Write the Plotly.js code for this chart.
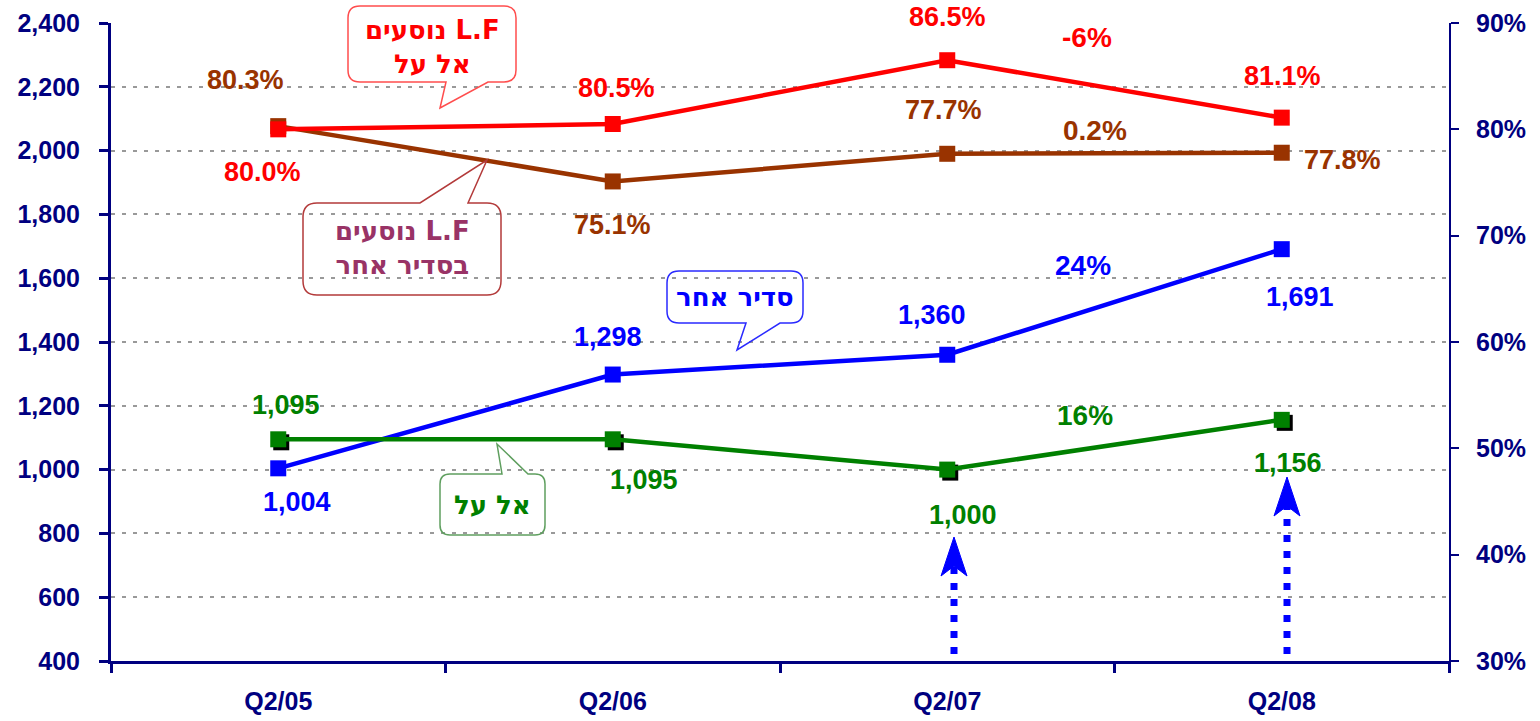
<!DOCTYPE html>
<html><head><meta charset="utf-8">
<script src="https://cdn.plot.ly/plotly-3.0.1.min.js"></script>
<style>html,body{margin:0;padding:0;background:#fff}#chart{width:1540px;height:721px}</style>
</head><body><div id="chart"></div>
<script>
// ---- data ----
const quarters = ['Q2/05', 'Q2/06', 'Q2/07', 'Q2/08'];
const elalLF = [80.0, 80.5, 86.5, 81.1];      // L.F נוסעים אל על (%)
const otherLF = [80.3, 75.1, 77.7, 77.8];     // L.F נוסעים בסדיר אחר (%)
const otherPax = [1004, 1298, 1360, 1691];    // סדיר אחר
const elalPax = [1095, 1095, 1000, 1156];     // אל על
const changeLabels = ['-6%', '0.2%', '24%', '16%']; // red, brown, blue, green
const leftTicks = [400, 600, 800, 1000, 1200, 1400, 1600, 1800, 2000, 2200, 2400];
const rightTicks = [30, 40, 50, 60, 70, 80, 90];

// ---- layout constants ----
const W = 1540, H = 721, ML = 111, MR = 91, MT = 23, MB = 60;
const PW = W - ML - MR, PH = H - MT - MB;
const Y1 = [400, 2400], Y2 = [30, 90];
const X = x => (x - ML) / PW;
const Yp = y => 1 - (y - MT) / PH;
const idx = quarters.map((_, i) => i);
const fmt = v => v.toLocaleString('en-US');
const pct = v => v.toFixed(1) + '%';

const RED = '#ff0000', BROWN = '#993300', BLUE = '#0000ff', GREEN = '#008000', NAVY = '#000080';
const FONT = 'Arial, "Liberation Sans", sans-serif';
const HEB = '"DejaVu Sans", Arial, sans-serif';

// shadow offset for the El Al markers (3px right, 3px down)
const xPerPx = 4 / PW, yPerPx = (Y1[1] - Y1[0]) / PH;

const traces = [
  {x: idx, y: otherPax, yaxis: 'y', mode: 'lines+markers', line: {color: BLUE, width: 4.5},
   marker: {symbol: 'square', size: 16, color: BLUE}, hoverinfo: 'skip'},
  {x: idx.map(i => i + 3 * xPerPx), y: elalPax.map(v => v - 3 * yPerPx), yaxis: 'y', mode: 'markers',
   marker: {symbol: 'square', size: 16, color: '#000'}, hoverinfo: 'skip'},
  {x: idx, y: elalPax, yaxis: 'y', mode: 'lines+markers', line: {color: GREEN, width: 4.5},
   marker: {symbol: 'square', size: 16, color: GREEN}, hoverinfo: 'skip'},
  {x: idx, y: otherLF, yaxis: 'y2', mode: 'lines+markers', line: {color: BROWN, width: 4.5},
   marker: {symbol: 'square', size: 16, color: BROWN}, hoverinfo: 'skip'},
  {x: idx, y: elalLF, yaxis: 'y2', mode: 'lines+markers', line: {color: RED, width: 4.5},
   marker: {symbol: 'square', size: 16, color: RED}, hoverinfo: 'skip'}
];

// ---- point labels ----
const ann = [];
const lblFont = (c, s) => ({family: FONT, size: s || 27, color: c, weight: 'bold'});
function addLabels(vals, yref, color, textFn, shifts) {
  vals.forEach((v, i) => {
    ann.push({x: i, y: v, xref: 'x', yref: yref, text: textFn(v), showarrow: false,
      xanchor: 'center', yanchor: 'middle',
      xshift: shifts[i][0], yshift: shifts[i][1], font: lblFont(color)});
  });
}
addLabels(elalLF, 'y2', RED, pct, [[-16, -43], [4, 36], [0, 43], [1, 42]]);
addLabels(otherLF, 'y2', BROWN, pct, [[-33, 46], [0, -44], [-4, 44], [61, -7]]);
addLabels(otherPax, 'y', BLUE, fmt, [[19, -34], [-5, 38], [-15, 40], [18, -48]]);
addLabels(elalPax, 'y', GREEN, fmt, [[8, 34], [31, -41], [16, -45], [6, -43]]);

// change labels between Q2/07 and Q2/08
const chgColors = [RED, BROWN, BLUE, GREEN];
const chgPos = [[1087, 38], [1095, 130], [1083, 265], [1085, 415]];
changeLabels.forEach((t, i) => {
  ann.push({x: X(chgPos[i][0]), y: Yp(chgPos[i][1]), xref: 'paper', yref: 'paper', text: t,
    xanchor: 'center', yanchor: 'middle', showarrow: false, font: lblFont(chgColors[i], 28)});
});

// ---- callouts ----
const shapes = [];
function bubble(x0, y0, x1, y1, r, tail, color) {
  const P = (x, y) => X(x) + ',' + Yp(y);
  let d = 'M' + P(x0 + r, y0) + ' ';
  if (tail.side === 'top') d += 'L' + P(tail.a, y0) + ' L' + P(tail.px, tail.py) + ' L' + P(tail.b, y0) + ' ';
  d += 'L' + P(x1 - r, y0) + ' Q' + P(x1, y0) + ' ' + P(x1, y0 + r) + ' L' + P(x1, y1 - r) +
       ' Q' + P(x1, y1) + ' ' + P(x1 - r, y1) + ' ';
  if (tail.side === 'bottom') d += 'L' + P(tail.b, y1) + ' L' + P(tail.px, tail.py) + ' L' + P(tail.a, y1) + ' ';
  d += 'L' + P(x0 + r, y1) + ' Q' + P(x0, y1) + ' ' + P(x0, y1 - r) + ' L' + P(x0, y0 + r) +
       ' Q' + P(x0, y0) + ' ' + P(x0 + r, y0) + ' Z';
  shapes.push({type: 'path', xref: 'paper', yref: 'paper', path: d, line: {color: color, width: 1.5},
    fillcolor: 'rgba(0,0,0,0)'});
}
bubble(348, 6, 516, 82, 12, {side: 'bottom', a: 446, b: 488, px: 440, py: 108}, '#ff4d4d');
bubble(303, 203, 501, 295, 14, {side: 'top', a: 420, b: 468, px: 487, py: 160}, '#b33a3a');
bubble(667, 271, 803, 323, 12, {side: 'bottom', a: 746, b: 780, px: 737, py: 350}, '#2a2aff');
bubble(440, 474, 545, 535, 10, {side: 'top', a: 502, b: 528, px: 497, py: 444}, '#5f9f5f');

const callouts = [
  {text: 'נוסעים L.F<br>אל על', cx: 432, cy: 47, color: RED},
  {text: 'נוסעים L.F<br>בסדיר אחר', cx: 402, cy: 248, color: '#993366'},
  {text: 'סדיר אחר', cx: 735, cy: 297, color: BLUE},
  {text: 'אל על', cx: 492, cy: 505, color: GREEN}
];
callouts.forEach(c => ann.push({x: X(c.cx), y: Yp(c.cy), xref: 'paper', yref: 'paper', text: c.text,
  xanchor: 'center', yanchor: 'middle', showarrow: false,
  font: {family: HEB, size: 26, color: c.color, weight: 'bold'}}));

// ---- dotted arrows ----
function dotArrow(x, yBottom, yTop, tipY, baseY, notchY) {
  shapes.push({type: 'line', xref: 'paper', yref: 'paper', x0: X(x), x1: X(x), y0: Yp(yBottom), y1: Yp(yTop),
    line: {color: BLUE, width: 7, dash: '7px,9px'}});
  const P = (a, b) => X(a) + ',' + Yp(b);
  shapes.push({type: 'path', xref: 'paper', yref: 'paper',
    path: 'M' + P(x, tipY) + ' L' + P(x - 13, baseY) + ' L' + P(x, notchY) + ' L' + P(x + 13, baseY) + ' Z',
    fillcolor: BLUE, line: {color: BLUE, width: 1}});
}
dotArrow(954, 654, 566, 537, 576, 566);
dotArrow(1287, 654, 506, 477, 516, 506);

const tickFont = s => ({family: FONT, size: s, color: NAVY, weight: 'bold'});
const layout = {
  width: W, height: H,
  margin: {l: ML, r: MR, t: MT, b: MB, pad: 0},
  paper_bgcolor: '#fff', plot_bgcolor: '#fff',
  showlegend: false,
  xaxis: {range: [-0.5, 3.5], tickmode: 'array', tickvals: idx, ticktext: quarters, ticks: '', ticklen: 0,
    showline: true, linecolor: NAVY, linewidth: 3, showgrid: false, zeroline: false,
    tickfont: tickFont(25), ticklabelstandoff: 16,
    minor: {tickmode: 'linear', tick0: -0.5, dtick: 1, ticks: 'outside', ticklen: 9, tickwidth: 3, tickcolor: NAVY, showgrid: false}},
  yaxis: {range: Y1, tickmode: 'array', tickvals: leftTicks, ticktext: leftTicks.map(fmt),
    ticks: 'outside', ticklen: 9, tickwidth: 3, tickcolor: NAVY,
    showline: true, linecolor: NAVY, linewidth: 3, zeroline: false,
    showgrid: true, gridcolor: '#999999', gridwidth: 2, griddash: '4px,7px',
    tickfont: tickFont(25), ticklabelstandoff: 14},
  yaxis2: {range: Y2, overlaying: 'y', side: 'right', tickmode: 'array', tickvals: rightTicks,
    ticktext: rightTicks.map(v => v + '%'), ticks: 'outside', ticklen: 8, tickwidth: 2, tickcolor: NAVY,
    showline: true, linecolor: NAVY, linewidth: 2, zeroline: false, showgrid: false,
    tickfont: tickFont(25), ticklabelstandoff: 12},
  annotations: ann,
  shapes: shapes
};
Plotly.newPlot('chart', traces, layout, {displayModeBar: false, staticPlot: true});
</script>
</body></html>
